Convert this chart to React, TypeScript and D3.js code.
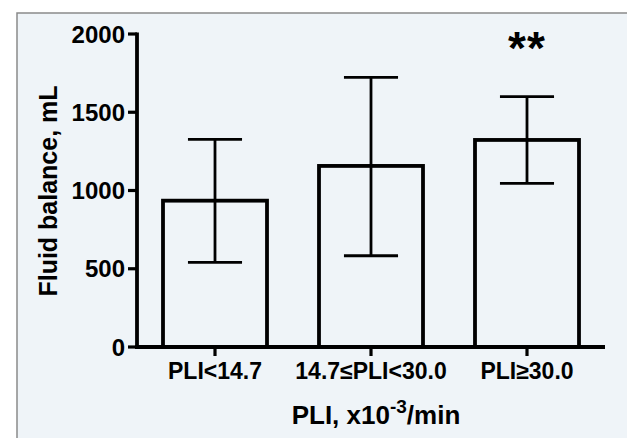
import { useMemo } from 'react';
import * as d3 from 'd3';

const categories = ['PLI<14.7', '14.7≤PLI<30.0', 'PLI≥30.0'];
const means = [935, 1157, 1323];
const upper = [1327, 1723, 1600];
const lower = [541, 583, 1046];
const yTicks = [0, 500, 1000, 1500, 2000];
const significance = ['', '', '**'];

const W = 627;
const H = 438;
const FONT = '"Liberation Sans", Arial, Helvetica, sans-serif';

export default function App() {
  const x = useMemo(
    () =>
      d3
        .scaleBand<string>()
        .domain(categories)
        .range([137, 605])
        .paddingInner(1 / 3)
        .paddingOuter(1 / 6),
    []
  );
  const y = useMemo(() => d3.scaleLinear().domain([0, 2000]).range([347, 34]), []);

  const bw = x.bandwidth();
  const capW = bw * 0.52;

  return (
    <svg
      width={W}
      height={H}
      style={{ position: 'absolute', left: 0, top: 0, fontFamily: FONT }}
    >
      <rect x={0} y={0} width={W} height={H} fill="#ffffff" />
      <rect x={17} y={13} width={W - 17} height={H - 13} fill="#eff4f8" />
      <path d={`M17,${H} V13 H${W}`} fill="none" stroke="#8a8a8a" strokeWidth={1.5} />

      {/* bars */}
      {categories.map((c, i) => (
        <rect
          key={c}
          x={x(c)!}
          y={y(means[i])}
          width={bw}
          height={y(0) - y(means[i])}
          fill="none"
          stroke="#000"
          strokeWidth={3.8}
        />
      ))}

      {/* error bars */}
      {categories.map((c, i) => {
        const cx = x(c)! + bw / 2;
        return (
          <g key={c} stroke="#000" strokeWidth={2.8}>
            <line x1={cx} x2={cx} y1={y(lower[i])} y2={y(upper[i])} />
            <line x1={cx - capW / 2} x2={cx + capW / 2} y1={y(upper[i])} y2={y(upper[i])} />
            <line x1={cx - capW / 2} x2={cx + capW / 2} y1={y(lower[i])} y2={y(lower[i])} />
          </g>
        );
      })}

      {/* significance */}
      {categories.map((c, i) =>
        significance[i] ? (
          <text
            key={c}
            x={x(c)! + bw / 2}
            y={64}
            textAnchor="middle"
            fontSize={46}
            fontWeight="bold"
            letterSpacing={1}
          >
            {significance[i]}
          </text>
        ) : null
      )}

      {/* y axis */}
      <line x1={137} x2={137} y1={y(2000) - 1.5} y2={y(0) + 1.5} stroke="#000" strokeWidth={3.8} />
      {yTicks.map((t) => (
        <g key={t}>
          <line x1={128} x2={137} y1={y(t)} y2={y(t)} stroke="#000" strokeWidth={3.2} />
          <text
            x={125}
            y={y(t)}
            dy="0.36em"
            textAnchor="end"
            fontSize={24}
            fontWeight="bold"
          >
            {t}
          </text>
        </g>
      ))}

      {/* x axis */}
      <line x1={135} x2={605} y1={y(0)} y2={y(0)} stroke="#000" strokeWidth={3.8} />
      {categories.map((c) => {
        const cx = x(c)! + bw / 2;
        return (
          <g key={c}>
            <line x1={cx} x2={cx} y1={y(0)} y2={y(0) + 9} stroke="#000" strokeWidth={3.2} />
            <text x={cx} y={379} textAnchor="middle" fontSize={23} fontWeight="bold">
              {c}
            </text>
          </g>
        );
      })}

      {/* axis titles */}
      <text
        transform="translate(57,191) rotate(-90)"
        textAnchor="middle"
        fontSize={25}
        fontWeight="bold"
      >
        Fluid balance, mL
      </text>
      <text x={376} y={424} textAnchor="middle" fontSize={26} fontWeight="bold">
        PLI, x10
        <tspan fontSize={19} dy={-11}>
          -3
        </tspan>
        <tspan dy={11}>/min</tspan>
      </text>
    </svg>
  );
}
